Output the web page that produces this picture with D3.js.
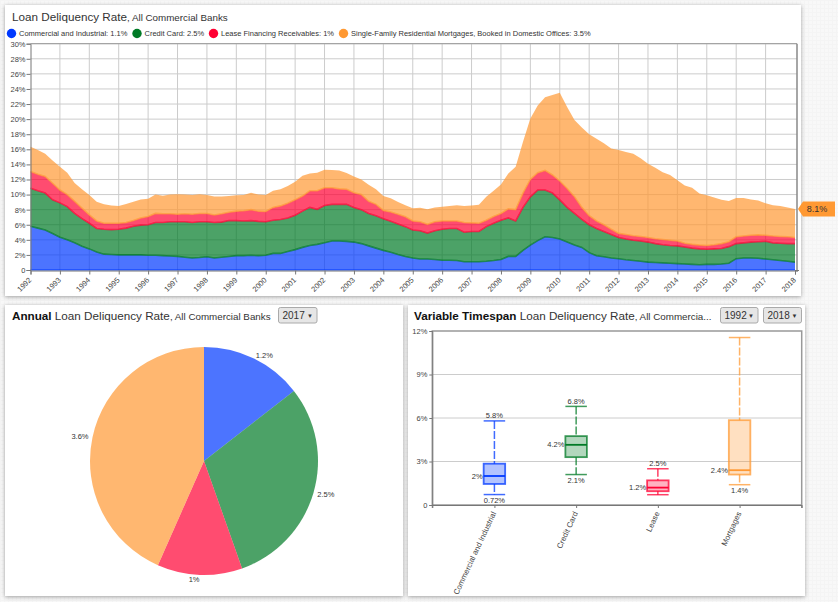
<!DOCTYPE html>
<html>
<head>
<meta charset="utf-8">
<script src="https://cdnjs.cloudflare.com/ajax/libs/d3/7.8.5/d3.min.js"></script>
<style>
  html, body { margin: 0; padding: 0; background: #f8f8f8; }
  body {
    width: 838px; height: 602px; overflow: hidden;
    background-image:
      linear-gradient(#f4f4f4 1px, transparent 1px),
      linear-gradient(90deg, #f4f4f4 1px, transparent 1px);
    background-size: 4px 4px;
  }
  text { font-family: "Liberation Sans", Arial, sans-serif; fill: #333; }
  .card { fill: #fff; filter: drop-shadow(0 1px 2px rgba(0,0,0,.35)); }
  .grid line { stroke: #ccc; stroke-width: 1; }
  .axis path, .axis line { stroke: #777; }
  .axis text { font-size: 7.5px; fill: #444; }
</style>
</head>
<body>
<div id="viz"></div>
<script>
/* global d3 */

// general variables
var w = 838
var h = 602

var seriesKeys = ["ci", "card", "lease", "mort"]
var colors = ["#0039ff", "#007a26", "#ff0033", "#ff9933"]
var legendLabels = [
  "Commercial and Industrial: 1.1%",
  "Credit Card: 2.5%",
  "Lease Financing Receivables: 1%",
  "Single-Family Residential Mortgages, Booked in Domestic Offices: 3.5%"
]
var years = [1992, 1993, 1994, 1995, 1996, 1997, 1998, 1999, 2000, 2001, 2002, 2003, 2004,
  2005, 2006, 2007, 2008, 2009, 2010, 2011, 2012, 2013, 2014, 2015, 2016, 2017, 2018]
var rateTicks = d3.range(0, 31, 2)

// quarterly delinquency rates, 1992 Q1 to 2018 Q1
var ci = [5.8, 5.55, 5.3, 4.85, 4.35, 4.0, 3.6, 3.15, 2.8, 2.4, 2.1, 2.05, 2.0, 2.0, 2.0, 2.0,
  1.95, 1.95, 1.9, 1.85, 1.8, 1.7, 1.6, 1.65, 1.75, 1.6, 1.7, 1.8, 1.9, 1.9, 1.95, 1.9,
  1.95, 2.2, 2.2, 2.45, 2.7, 3.0, 3.25, 3.4, 3.6, 3.85, 3.85, 3.8, 3.7, 3.5, 3.2, 2.9,
  2.6, 2.35, 2.05, 1.8, 1.6, 1.45, 1.45, 1.4, 1.3, 1.3, 1.25, 1.1, 1.1, 1.1, 1.15, 1.25,
  1.4, 1.8, 1.8, 2.6, 3.3, 3.9, 4.4, 4.3, 4.1, 3.7, 3.3, 3.0, 2.3, 1.9, 1.75, 1.6,
  1.5, 1.35, 1.25, 1.15, 1.05, 1.0, 0.95, 0.9, 0.85, 0.8, 0.75, 0.7, 0.75, 0.75, 0.8, 0.9,
  1.5, 1.6, 1.6, 1.55, 1.45, 1.35, 1.25, 1.15, 1.05]
var card = [5.05, 4.95, 4.9, 4.45, 4.55, 4.4, 3.9, 3.65, 3.4, 3.1, 3.3, 3.3, 3.4, 3.55, 3.8, 3.95,
  4.05, 4.35, 4.4, 4.55, 4.6, 4.7, 4.7, 4.75, 4.65, 4.7, 4.65, 4.75, 4.65, 4.6, 4.6, 4.55,
  4.45, 4.4, 4.5, 4.45, 4.55, 4.8, 5.05, 4.65, 4.95, 4.85, 4.85, 4.9, 4.6, 4.5, 4.3, 4.3,
  4.2, 4.1, 4.05, 3.95, 3.7, 3.75, 3.45, 3.8, 4.1, 4.2, 4.25, 3.9, 4.0, 4.0, 4.6, 4.95,
  5.2, 5.1, 4.7, 5.7, 6.4, 6.7, 6.2, 5.9, 5.2, 4.6, 4.2, 3.7, 3.7, 3.6, 3.35, 3.1,
  2.8, 2.75, 2.7, 2.7, 2.65, 2.5, 2.4, 2.35, 2.35, 2.25, 2.15, 2.1, 2.0, 2.05, 2.05, 2.2,
  2.0, 2.0, 2.1, 2.2, 2.35, 2.25, 2.3, 2.35, 2.45]
var lease = [2.2, 2.2, 2.2, 2.2, 1.7, 1.6, 1.6, 1.4, 1.1, 1.0, 0.8, 0.85, 0.8, 0.75, 0.75, 0.95,
  1.1, 1.2, 1.15, 1.05, 1.0, 1.05, 1.1, 1.1, 1.1, 1.0, 1.1, 1.1, 1.25, 1.35, 1.45, 1.35,
  1.35, 1.7, 1.8, 1.95, 2.05, 2.0, 2.2, 2.45, 2.35, 2.2, 2.05, 2.0, 1.95, 2.0, 1.6, 1.5,
  1.1, 1.25, 1.3, 1.3, 1.2, 1.2, 1.15, 1.2, 1.1, 1.0, 1.0, 1.3, 1.15, 1.1, 0.85, 0.9,
  0.9, 1.2, 1.5, 1.9, 2.3, 2.3, 2.6, 2.4, 2.5, 2.5, 2.2, 1.6, 1.2, 1.0, 0.9, 0.7,
  0.55, 0.6, 0.6, 0.6, 0.6, 0.65, 0.7, 0.7, 0.65, 0.5, 0.5, 0.5, 0.5, 0.55, 0.65, 0.65,
  0.9, 0.9, 0.9, 0.9, 0.8, 0.9, 0.9, 0.9, 0.8]
var mort = [3.3, 3.2, 3.0, 3.0, 3.1, 2.9, 2.45, 2.5, 2.65, 2.55, 2.5, 2.35, 2.3, 2.45, 2.5, 2.45,
  2.35, 2.5, 2.4, 2.55, 2.65, 2.55, 2.55, 2.55, 2.45, 2.45, 2.3, 2.15, 2.1, 2.1, 2.25, 2.2,
  2.2, 2.2, 2.2, 2.3, 2.4, 2.7, 2.3, 2.4, 2.4, 2.35, 2.45, 2.15, 2.15, 2.0, 2.2, 2.0,
  1.9, 1.8, 1.6, 1.55, 1.7, 1.85, 2.0, 1.9, 1.9, 2.0, 2.1, 2.2, 2.3, 2.45, 3.1, 3.4,
  3.85, 4.7, 5.7, 6.8, 8.1, 8.9, 9.7, 10.6, 11.7, 10.8, 10.2, 10.6, 10.8, 10.9, 10.8, 10.7,
  11.05, 10.95, 10.85, 10.35, 9.8, 9.4, 8.9, 8.65, 8.05, 7.65, 7.5, 6.85, 6.65, 6.25, 5.8, 5.4,
  5.15, 5.05, 4.75, 4.55, 4.25, 4.1, 4.05, 3.9, 3.8]

// annual pie, 2017
var pieValues = [1.2, 2.5, 1, 3.6]
var pieLabels = ["1.2%", "2.5%", "1%", "3.6%"]

// box plot, 1992 to 2018
var boxCategories = ["Commercial and Industrial", "Credit Card", "Lease", "Mortgages"]
var boxLow = [0.72, 2.1, 0.71, 1.4]
var boxQ1 = [1.45, 3.3, 0.95, 2.1]
var boxMedian = [2, 4.15, 1.2, 2.4]
var boxQ3 = [2.85, 4.75, 1.7, 5.85]
var boxHigh = [5.8, 6.8, 2.5, 11.55]
var boxLowLabels = ["0.72%", "2.1%", "", "1.4%"]
var boxMedianLabels = ["2%", "4.2%", "1.2%", "2.4%"]
var boxHighLabels = ["5.8%", "6.8%", "2.5%", ""]
var boxTicks = [0, 3, 6, 9, 12]

var svg = d3.select("#viz").append("svg").attr("width", w).attr("height", h)

// white panels
svg.selectAll(".card")
  .data([[5, 5, 796, 291], [5, 305, 398, 291], [408, 305, 397, 291]])
  .enter().append("rect")
  .attr("class", "card")
  .attr("x", d => d[0]).attr("y", d => d[1])
  .attr("width", d => d[2]).attr("height", d => d[3])

function title(x, y, bold, main, sub) {
  var t = svg.append("text").attr("x", x).attr("y", y).style("font-size", "11.7px")
  if (bold) t.append("tspan").style("font-weight", "bold").style("fill", "#111").text(bold + " ")
  t.append("tspan").text(main)
  t.append("tspan").style("font-size", "9.8px").text(sub)
}

function picker(x, y, width, label) {
  var g = svg.append("g").attr("transform", `translate(${x},${y})`)
  g.append("rect").attr("width", width).attr("height", 15.5).attr("rx", 2)
    .attr("fill", "#e6e6e6").attr("stroke", "#aaa")
  g.append("text").attr("x", 4).attr("y", 11.5).style("font-size", "10px").text(label)
  g.append("text").attr("x", width - 10).attr("y", 10).style("font-size", "6px").text("▼")
}

// top chart: stacked areas
title(12, 21, "", "Loan Deliquency Rate", ", All Commercial Banks")

var legendX = [11.5, 137, 213.5, 343.5]
legendLabels.forEach((d, i) => {
  svg.append("circle").attr("cx", legendX[i]).attr("cy", 33.5).attr("r", 4.7).attr("fill", colors[i])
  svg.append("text").attr("x", legendX[i] + 7.5).attr("y", 36).style("font-size", "7.5px").text(d)
})

var x = d3.scaleLinear().domain([1992, 2018]).range([30.5, 795])
var y = d3.scaleLinear().domain([0, 30]).range([270, 43.7])

var rows = ci.map((d, i) => ({ t: 1992 + i / 4, ci: d, card: card[i], lease: lease[i], mort: mort[i] }))
var stacked = d3.stack().keys(seriesKeys)(rows)

svg.append("g").attr("class", "grid").selectAll("line").data(rateTicks.slice(1)).enter().append("line")
  .attr("x1", 30.5).attr("x2", 797).attr("y1", d => y(d)).attr("y2", d => y(d))
svg.append("g").attr("class", "grid").selectAll("line").data(years.slice(1, -1)).enter().append("line")
  .attr("x1", d => x(d)).attr("x2", d => x(d)).attr("y1", 43.7).attr("y2", 270)

var area = d3.area().x(d => x(d.data.t)).y0(d => y(d[0])).y1(d => y(d[1]))
var baseLine = d3.line().x(d => x(d.data.t)).y(d => y(d[0]))

stacked.forEach((layer, i) => {
  svg.append("path").attr("d", area(layer)).attr("fill", colors[i]).attr("fill-opacity", 0.7)
  svg.append("path").attr("d", baseLine(layer)).attr("fill", "none")
    .attr("stroke", colors[i]).attr("stroke-opacity", 0.7).attr("stroke-width", 1.6)
})

var yAxis = d3.axisLeft(y).tickValues(rateTicks).tickSize(4).tickPadding(1)
  .tickFormat(d => d === 0 ? "0" : d + "%")
svg.append("g").attr("class", "axis").attr("transform", "translate(30.5,0)").call(yAxis)

var xAxis = d3.axisBottom(x).tickValues(years).tickSize(4).tickFormat(d3.format("d"))
var xg = svg.append("g").attr("class", "axis").attr("transform", "translate(0,270.5)").call(xAxis)
xg.selectAll("text")
  .attr("text-anchor", "end")
  .attr("transform", "translate(1,10) rotate(-45)")
  .attr("x", 0).attr("y", 0).attr("dx", 0).attr("dy", 0)

svg.append("line").attr("x1", 30.5).attr("x2", 797).attr("y1", 43.7).attr("y2", 43.7).attr("stroke", "#999")
svg.append("line").attr("x1", 797).attr("x2", 797).attr("y1", 43.7).attr("y2", 272).attr("stroke", "#888").attr("stroke-width", 1.5)
svg.append("line").attr("x1", 795).attr("x2", 799).attr("y1", 270.5).attr("y2", 270.5).attr("stroke", "#777")

// last value flag on the right
var lastTotal = ci[ci.length - 1] + card[card.length - 1] + lease[lease.length - 1] + mort[mort.length - 1]
var flagY = y(lastTotal)
svg.append("path")
  .attr("d", `M798,${flagY} L803,${flagY - 7.5} H835 V${flagY + 7.5} H803 Z`)
  .attr("fill", colors[3])
svg.append("text").attr("x", 817).attr("y", flagY + 3.2).attr("text-anchor", "middle")
  .style("font-size", "9px").text(lastTotal.toFixed(1) + "%")

// bottom left: pie
title(12, 320, "Annual", "Loan Deliquency Rate", ", All Commercial Banks")
picker(278.5, 307.5, 38.5, "2017")

var pieG = svg.append("g").attr("transform", "translate(204,461)")
var arcs = d3.pie().sort(null)(pieValues)
var arc = d3.arc().innerRadius(0).outerRadius(114)
pieG.selectAll("path").data(arcs).enter().append("path")
  .attr("d", arc)
  .attr("fill", (d, i) => colors[i])
  .attr("fill-opacity", 0.7)
pieG.selectAll("text").data(arcs).enter().append("text")
  .attr("transform", d => {
    var a = (d.startAngle + d.endAngle) / 2
    return `translate(${118 * Math.sin(a)},${-118 * Math.cos(a)})`
  })
  .attr("dy", "0.35em")
  .attr("text-anchor", d => (d.startAngle + d.endAngle) / 2 < Math.PI ? "start" : "end")
  .style("font-size", "7.5px")
  .text((d, i) => pieLabels[i])

// bottom right: box plot
title(414, 320, "Variable Timespan", "Loan Deliquency Rate", ", All Commercia...")
picker(720.5, 307.5, 37.5, "1992")
picker(763.5, 307.5, 38, "2018")

var bx = d3.scalePoint().domain(boxCategories).range([432.3, 801.7]).padding(0.76)
var by = d3.scaleLinear().domain([0, 12]).range([505, 331])
var boxW = 21.5

svg.append("g").attr("class", "grid").selectAll("line").data([3, 6, 9]).enter().append("line")
  .attr("x1", 432.3).attr("x2", 801.7).attr("y1", d => by(d)).attr("y2", d => by(d))

svg.append("rect").attr("x", 432.3).attr("y", 331).attr("width", 369.4).attr("height", 174)
  .attr("fill", "none").attr("stroke", "#999").attr("stroke-width", 1.5)

var byAxis = d3.axisLeft(by).tickValues(boxTicks).tickSize(3).tickPadding(2)
  .tickFormat(d => d === 0 ? "0" : d + "%")
svg.append("g").attr("class", "axis").attr("transform", "translate(432.3,0)").call(byAxis)

var bxAxis = d3.axisBottom(bx).tickSize(3)
var bxg = svg.append("g").attr("class", "axis").attr("transform", "translate(0,505)").call(bxAxis)
bxg.selectAll("text")
  .attr("text-anchor", "end")
  .attr("transform", "translate(-1,7) rotate(-65)")
  .attr("x", 0).attr("dx", 0).attr("y", 0).attr("dy", "0.35em")
  .style("font-size", "7.8px")
svg.append("line").attr("x1", 432.3).attr("x2", 432.3).attr("y1", 505).attr("y2", 508).attr("stroke", "#777")
svg.append("line").attr("x1", 801.7).attr("x2", 801.7).attr("y1", 505).attr("y2", 508).attr("stroke", "#777")

boxCategories.forEach((cat, i) => {
  var cx = bx(cat)
  var g = svg.append("g").attr("stroke", colors[i]).attr("stroke-opacity", 0.75)
  g.append("line").attr("x1", cx).attr("x2", cx).attr("y1", by(boxHigh[i])).attr("y2", by(boxQ3[i]))
    .attr("stroke-width", 1.5).attr("stroke-dasharray", "8,2")
  g.append("line").attr("x1", cx).attr("x2", cx).attr("y1", by(boxQ1[i])).attr("y2", by(boxLow[i]))
    .attr("stroke-width", 1.5).attr("stroke-dasharray", "8,2")
  ;[boxHigh[i], boxLow[i]].forEach(v => {
    g.append("line").attr("x1", cx - boxW / 2).attr("x2", cx + boxW / 2)
      .attr("y1", by(v)).attr("y2", by(v)).attr("stroke-width", 1.5)
  })
  g.append("rect").attr("x", cx - boxW / 2).attr("y", by(boxQ3[i]))
    .attr("width", boxW).attr("height", by(boxQ1[i]) - by(boxQ3[i]))
    .attr("fill", colors[i]).attr("fill-opacity", 0.3).attr("stroke-width", 1.8)
  g.append("line").attr("x1", cx - boxW / 2).attr("x2", cx + boxW / 2)
    .attr("y1", by(boxMedian[i])).attr("y2", by(boxMedian[i]))
    .attr("stroke-width", 1.8).attr("stroke-opacity", 1)

  svg.append("text").attr("x", cx).attr("y", by(boxHigh[i]) - 2.5).attr("text-anchor", "middle")
    .style("font-size", "7.5px").text(boxHighLabels[i])
  svg.append("text").attr("x", cx).attr("y", by(boxLow[i]) + 8.5).attr("text-anchor", "middle")
    .style("font-size", "7.5px").text(boxLowLabels[i])
  svg.append("text").attr("x", cx - boxW / 2 - 1).attr("y", by(boxMedian[i])).attr("dy", "0.35em")
    .attr("text-anchor", "end").style("font-size", "7.5px").text(boxMedianLabels[i])
})
</script>
</body>
</html>
